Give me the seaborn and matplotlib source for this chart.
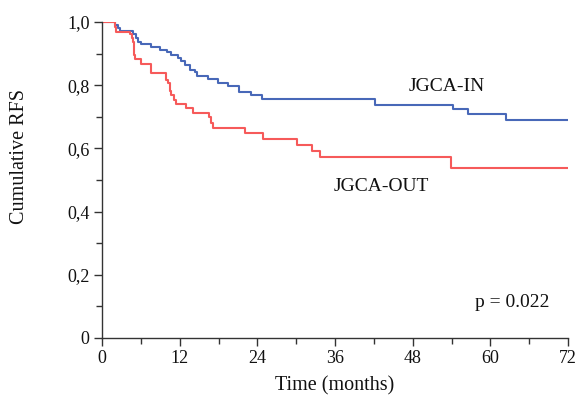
import numpy as np
import pandas as pd
import matplotlib
matplotlib.use("Agg")
import matplotlib.pyplot as plt
from matplotlib.ticker import FixedLocator
import seaborn as sns

# Kaplan-Meier step data (time in months, cumulative RFS)
in_time = [0, 2.0, 2.5, 2.8, 4.8, 5.2, 5.6, 6.0, 7.6, 8.9, 10.0, 10.7, 11.8, 12.2,
           12.8, 13.6, 14.3, 14.6, 16.4, 17.9, 19.4, 21.2, 23.0, 24.7, 42.2, 54.3,
           56.5, 62.4, 72]
in_surv = [1.0, 0.99, 0.98, 0.971, 0.961, 0.950, 0.938, 0.929, 0.921, 0.912, 0.906,
           0.896, 0.885, 0.875, 0.864, 0.848, 0.840, 0.829, 0.819, 0.808, 0.797,
           0.777, 0.769, 0.755, 0.737, 0.725, 0.710, 0.689, 0.689]

out_time = [0, 2.0, 2.2, 4.4, 4.6, 4.8, 4.9, 5.0, 5.1, 6.1, 7.5, 9.9, 10.2, 10.5,
            10.7, 11.1, 11.5, 13.0, 14.0, 16.6, 16.8, 17.1, 22.1, 24.8, 30.2, 32.4,
            33.7, 53.9, 72]
out_surv = [1.0, 0.985, 0.969, 0.961, 0.948, 0.936, 0.917, 0.896, 0.883, 0.867,
            0.838, 0.816, 0.806, 0.780, 0.769, 0.753, 0.741, 0.729, 0.711, 0.698,
            0.681, 0.665, 0.648, 0.631, 0.611, 0.592, 0.573, 0.537, 0.537]

groups = ["JGCA-IN", "JGCA-OUT"]
x_ticks = [0, 12, 24, 36, 48, 60, 72]
y_ticks = [0, 0.2, 0.4, 0.6, 0.8, 1.0]
y_labels = ["0", "0,2", "0,4", "0,6", "0,8", "1,0"]
p_text = "p = 0.022"

df = pd.concat([
    pd.DataFrame({"time": in_time, "surv": in_surv, "group": groups[0]}),
    pd.DataFrame({"time": out_time, "surv": out_surv, "group": groups[1]}),
], ignore_index=True)

sns.set_style("ticks")
plt.rcParams["font.family"] = ["Liberation Serif", "DejaVu Serif"]

fig = plt.figure(figsize=(5.79, 3.99), dpi=100)
ax = fig.add_axes([0.1762, 0.1529, 0.8048, 0.7922])

palette = {groups[0]: "#4868b8", groups[1]: "#f65a5a"}
sns.lineplot(data=df, x="time", y="surv", hue="group", palette=palette,
             estimator=None, sort=False, drawstyle="steps-post",
             linewidth=1.5, legend=False, ax=ax)

ax.set_xlim(0, 72)
ax.set_ylim(0, 1.0)
ax.xaxis.set_major_locator(FixedLocator(x_ticks))
ax.xaxis.set_minor_locator(FixedLocator(np.arange(6, 72, 12)))
ax.yaxis.set_major_locator(FixedLocator(y_ticks))
ax.yaxis.set_minor_locator(FixedLocator([0.1, 0.3, 0.5, 0.7, 0.9]))
ax.set_yticklabels(y_labels)
ax.set_xticklabels([str(t) for t in x_ticks])

for s in ["top", "right"]:
    ax.spines[s].set_visible(False)
for s in ["left", "bottom"]:
    ax.spines[s].set_color("#333333")
    ax.spines[s].set_linewidth(1.0)
    ax.spines[s].set_clip_on(False)

ax.tick_params(axis="both", which="major", length=6, width=1.0, color="#333333",
               labelsize=13, labelcolor="#111111", pad=3)
ax.tick_params(axis="both", which="minor", length=4, width=1.0, color="#333333")

ax.set_xlabel("Time (months)", fontsize=14.5, color="#111111", labelpad=6)
ax.set_ylabel("")
fig.text(19 / 579, 1 - 157 / 399, "Cumulative RFS", rotation=90, fontsize=14.5,
         color="#111111", ha="center", va="center")

ax.text(53.3, 0.795, groups[0], fontsize=14, color="#111111", ha="center", va="center")
ax.text(43.1, 0.478, groups[1], fontsize=14, color="#111111", ha="center", va="center")
ax.text(63.4, 0.112, p_text, fontsize=14, color="#111111", ha="center", va="center")

fig.savefig("out.png", dpi=100)
